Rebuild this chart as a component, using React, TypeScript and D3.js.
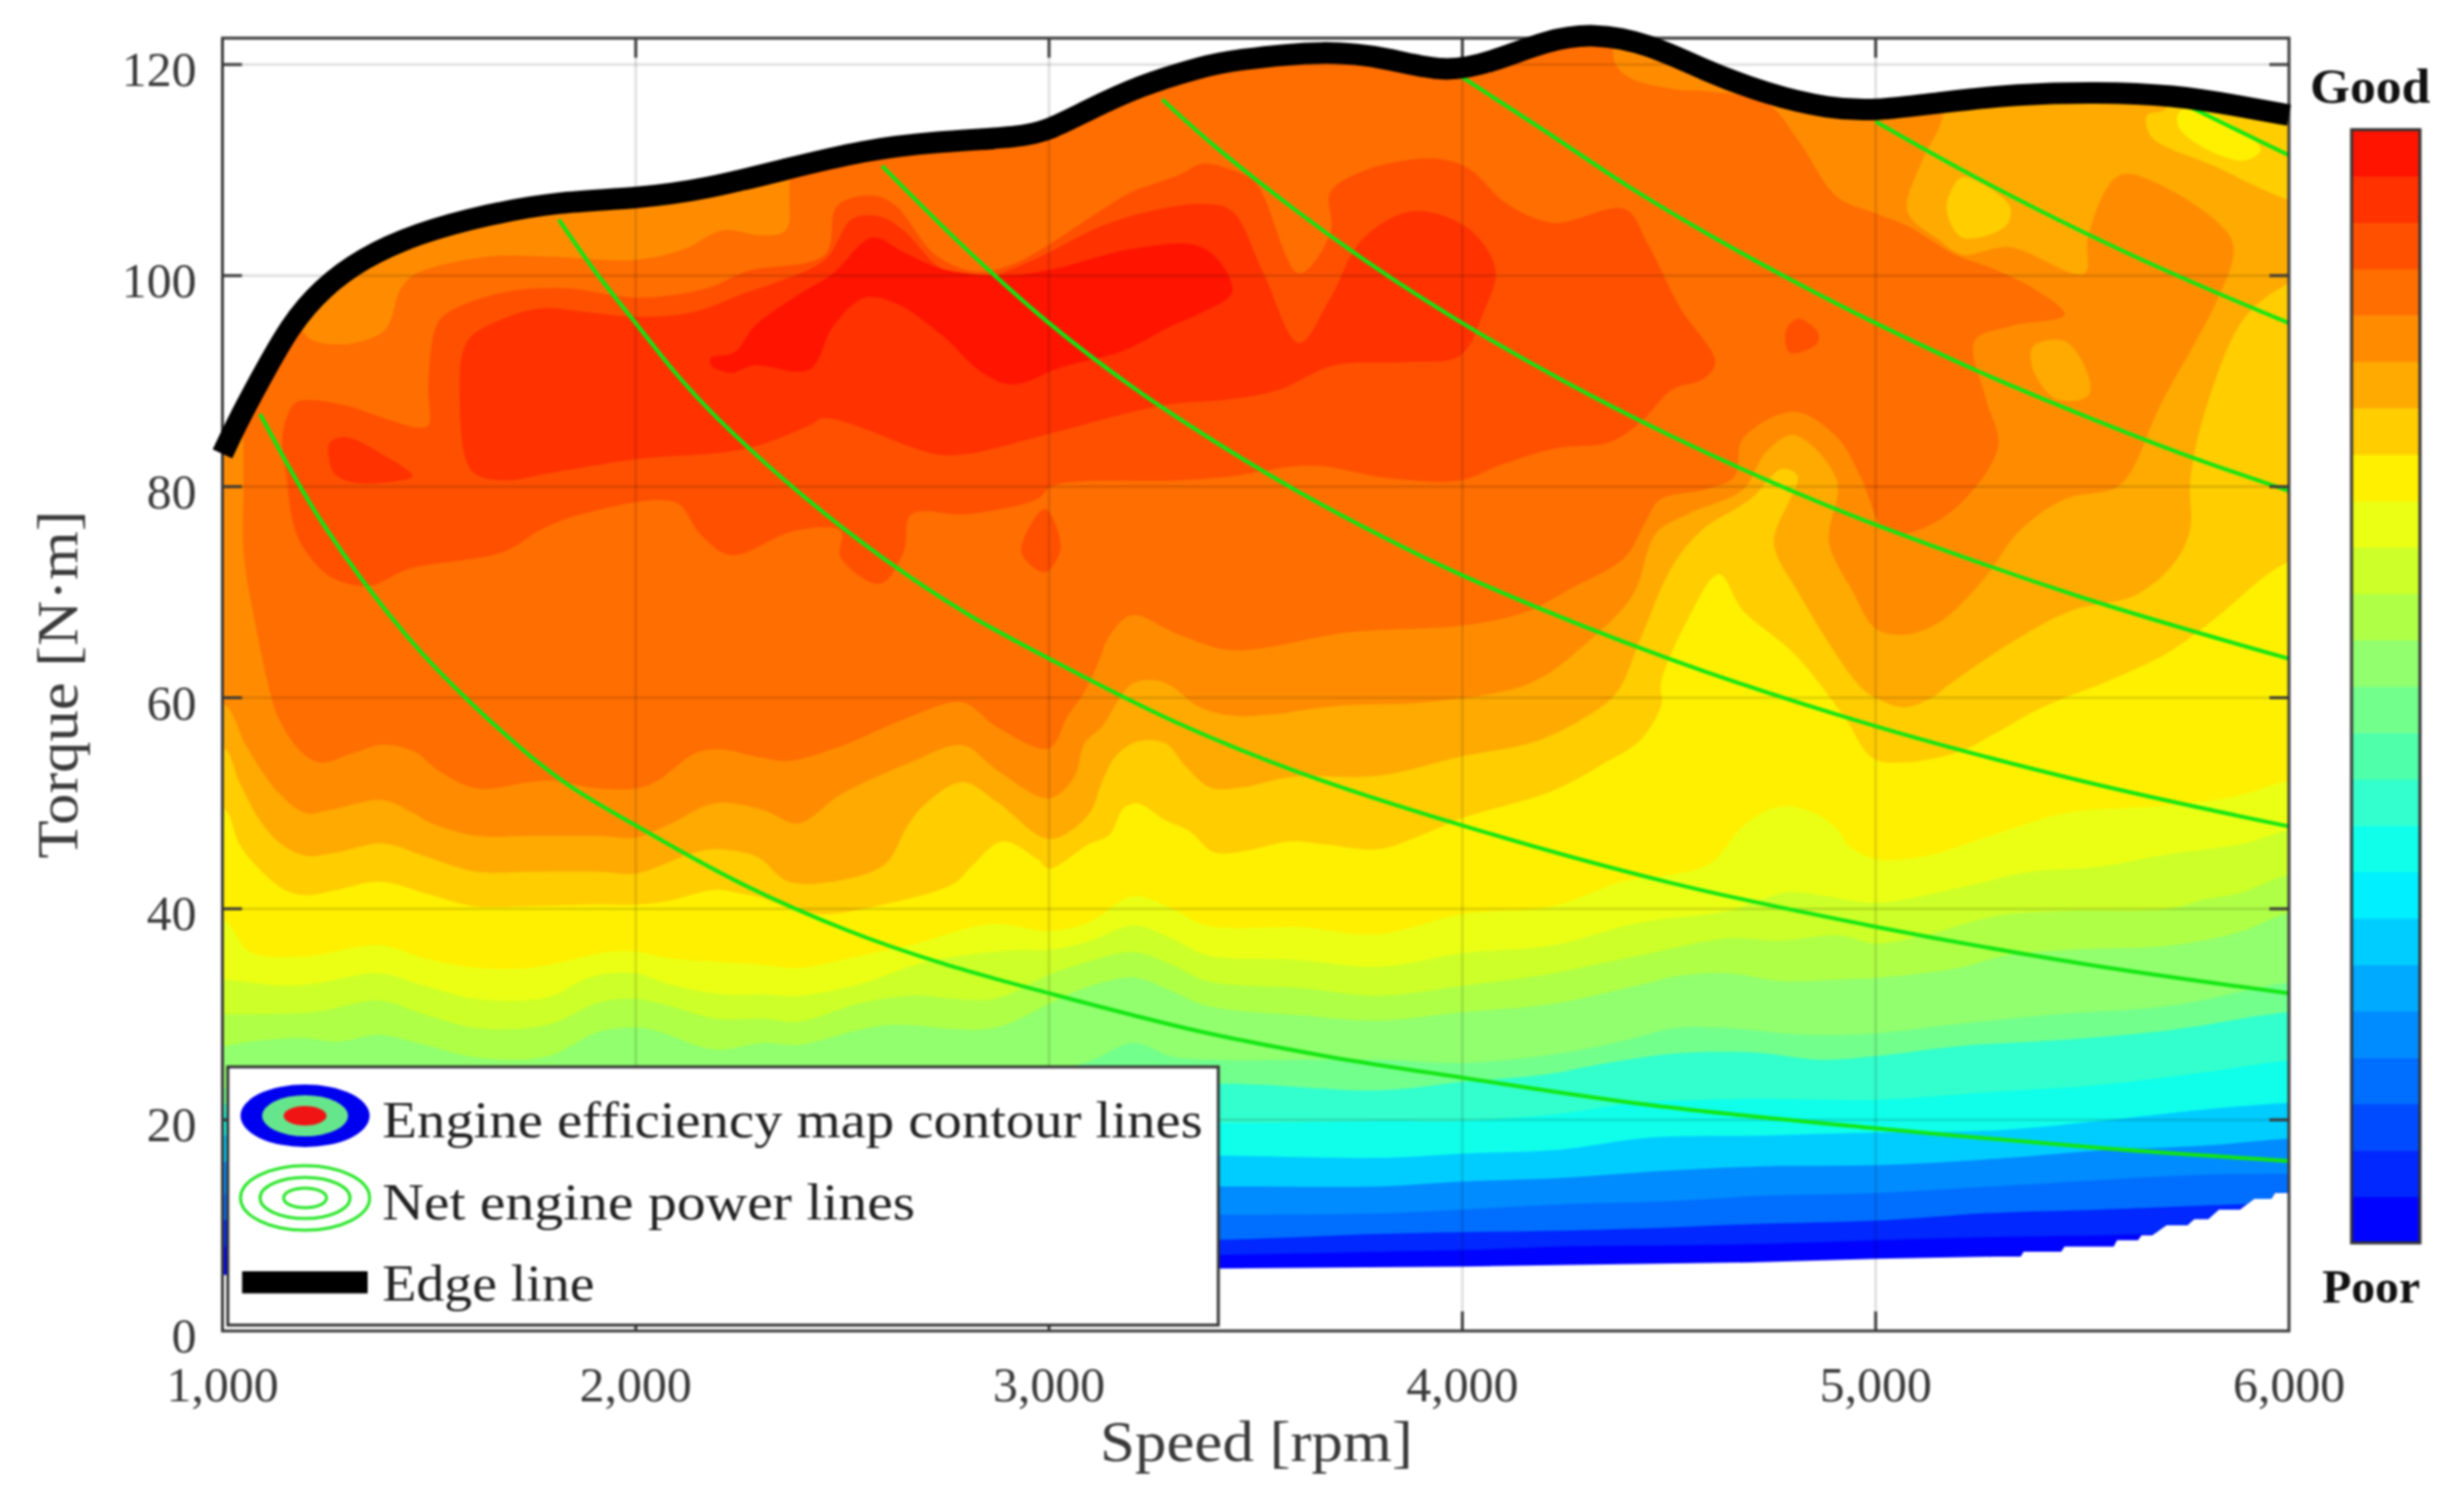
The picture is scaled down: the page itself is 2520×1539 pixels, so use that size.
import React from "react";
import * as d3 from "d3";

type Pt = [number, number];

// ---- axes ----
const speedTicks = [1000, 2000, 3000, 4000, 5000, 6000];
const torqueTicks = [0, 20, 40, 60, 80, 100, 120];

// ---- colour levels of the bar, bottom to top ----
const levelColors = [
  "rgb(0,3,255)", "rgb(0,40,255)", "rgb(0,75,255)", "rgb(0,110,255)", "rgb(0,140,255)", "rgb(0,170,255)",
  "rgb(0,205,255)", "rgb(0,240,255)", "rgb(15,255,235)", "rgb(50,255,205)", "rgb(80,255,170)", "rgb(115,255,140)",
  "rgb(145,255,110)", "rgb(175,255,70)", "rgb(205,255,40)", "rgb(235,255,20)", "rgb(255,240,0)", "rgb(255,205,0)",
  "rgb(255,170,0)", "rgb(255,140,0)", "rgb(255,110,0)", "rgb(255,80,0)", "rgb(255,50,0)", "rgb(255,20,0)",
];

// ---- edge line (speed, torque) ----
const edgeLine: Pt[] = [[1000,83.1],[1032,85.8],[1089,90],[1165,95.4],[1241,98.8],[1336,101.6],[1470,104],[1641,105.8],[1812,107],[2002,107.3],[2173,108.2],[2363,110.1],[2553,111.9],[2724,112.7],[2933,113.1],[3000,113.8],[3085,115.5],[3218,118],[3370,119.8],[3443,120.4],[3671,121.4],[3823,120.6],[3956,119.2],[4070,120.2],[4203,122.3],[4317,123],[4450,122],[4583,119.5],[4735,117.2],[4887,115.8],[5000,115.6],[5153,116.4],[5343,117.2],[5533,117.4],[5723,117.1],[5875,116.1],[6000,115.2]];

// lower limit of the map
const lowerLimit: Pt[] = [[1000,5.3],[2000,5.5],[3400,5.9],[4000,6.1],[4695,6.49],[5000,6.83],[5288,7.05],[5351,7.05],[5358,7.5],[5449,7.5],[5457,8],[5576,8],[5584,8.6],[5635,8.6],[5643,9.05],[5669,9.05],[5703,10],[5754,10],[5771,10.6],[5805,10.6],[5830,11.5],[5881,11.5],[5915,12.5],[5957,12.5],[5966,13.1],[6000,13.1]];

// ---- contour boundaries: "level and above" lies above the curve ----
const boundB: Pt[] = [[1000,8],[3000,7],[3410,7.2],[3800,7.5],[4000,7.66],[4240,8],[4500,8.1],[4720,8.25],[5000,8.6],[5288,8.9],[5542,9.05],[5670,9.2],[6000,9.5]];
const boundC: Pt[] = [[1000,10.5],[3000,8.7],[3410,8.65],[3800,9.2],[4000,9.36],[4240,9.5],[4500,9.8],[4720,10.15],[5000,10.45],[5288,11.2],[5542,11.5],[5881,12],[6000,12.1]];
const boundD: Pt[] = [[1000,13],[3000,11],[3410,11],[3800,11.15],[4000,11.5],[4240,12],[4500,12.3],[4720,12.8],[5000,13.07],[5288,13.7],[5542,14.3],[5796,14.8],[6000,14.9]];
const boundE: Pt[] = [[1000,16],[3000,13.7],[3410,13.7],[3800,13.7],[4000,14.15],[4240,14.5],[4500,15.2],[4720,15.6],[5000,15.7],[5288,16.3],[5542,17.1],[5796,17.55],[6000,18.2]];
const boundF: Pt[] = [[1000,18.5],[3000,16.5],[3410,16.6],[3800,16.4],[4000,16.8],[4240,17.2],[4450,18.3],[4720,18.5],[5000,18.8],[5288,19],[5542,19.9],[5796,21],[6000,21.6]];
const boundG: Pt[] = [[1000,20.5],[3000,20],[3410,19.7],[3800,19.9],[4000,19.9],[4240,20.6],[4410,21.6],[4580,21.9],[4720,22],[5000,21.9],[5288,22.65],[5542,23.3],[5796,24.5],[6000,25.6]];
const boundH: Pt[] = [[1000,21.5],[2500,21.5],[3000,22],[3410,23.4],[3800,22.8],[4000,23.6],[4200,24.3],[4350,25.4],[4515,26.3],[4700,26.4],[4865,25.7],[5000,26.04],[5203,27],[5457,27.6],[5711,28.5],[6000,30.2]];
const boundI: Pt[] = [[1000,23],[2000,23],[2800,24],[3086,25.4],[3204,27.3],[3297,26],[3395,25.7],[3800,25.7],[4000,25.4],[4220,26.2],[4400,27.6],[4515,28.7],[4642,28.7],[4780,28.2],[4865,28.05],[5000,28.2],[5203,29.1],[5457,30.06],[5711,30.8],[6000,33]];
const boundJ: Pt[] = [[1003,27],[1066,27.4],[1193,27.75],[1278,27.4],[1380,28.05],[1489,27.1],[1616,25.9],[1785,26],[1912,28.36],[2021,28.67],[2191,26.66],[2307,27.3],[2393,27.1],[2537,28.5],[2622,29],[2866,28.7],[3000,31],[3086,32.5],[3204,33.5],[3297,32.2],[3382,30.8],[3608,29.9],[3797,29.4],[4000,30.2],[4220,31],[4431,32.8],[4515,33.6],[4642,33.9],[4769,33.15],[4911,33.3],[5000,33.45],[5203,34.4],[5305,35.5],[5457,36.1],[5711,36.5],[5881,37.8],[6000,39.6]];
const boundK: Pt[] = [[1003,30],[1219,30.2],[1380,31.3],[1489,30],[1616,28.7],[1785,29],[1912,31.14],[2000,31.45],[2081,30.8],[2191,29.6],[2307,29.6],[2393,29.3],[2537,31],[2664,31.76],[2866,31.45],[3000,33.75],[3095,35],[3204,35.9],[3297,34.7],[3382,33.15],[3608,32.5],[3797,31.76],[4000,32.7],[4220,33.9],[4431,35.6],[4642,37.2],[4769,37],[4911,37.5],[5000,36.7],[5119,37.5],[5288,39.3],[5457,39.8],[5711,40],[5796,40.9],[5881,41.5],[6000,43.2]];
const boundL: Pt[] = [[1003,33.3],[1151,32.7],[1236,33],[1380,33.9],[1489,32.7],[1616,31.45],[1785,31.6],[1895,33.6],[2000,33.9],[2081,32.85],[2207,31.9],[2307,31.9],[2393,31.76],[2537,32.8],[2706,35],[2917,36.1],[3000,36.1],[3095,36.9],[3204,38.4],[3297,37.2],[3382,35.6],[3608,35.15],[3797,34.5],[4000,35.8],[4220,36.55],[4431,38.7],[4642,39.8],[4726,40.9],[4790,41.6],[4865,41.3],[5000,40.56],[5203,42],[5373,43.5],[5542,44],[5711,45.2],[5881,46.1],[6000,47.4]];
const boundM: Pt[] = [[1003,39],[1066,35.93],[1193,35.46],[1380,36.55],[1489,35.3],[1616,34.4],[1743,34.4],[1827,35],[1912,35.8],[2000,35.93],[2081,35.3],[2191,35],[2307,34.7],[2393,34.4],[2537,35.5],[2664,36.55],[2858,38.55],[3000,37.9],[3095,38.7],[3204,41.2],[3297,40],[3382,38.4],[3608,38.25],[3797,37.6],[4000,39.5],[4220,40.25],[4389,42.6],[4515,43.3],[4600,44.3],[4684,48],[4769,49.7],[4853,49.05],[4911,47.36],[4932,46.1],[5000,44.7],[5119,45],[5288,47.05],[5457,49.05],[5711,49.8],[5881,50.75],[6000,52.15]];
const boundN: Pt[] = [[1003,49.5],[1041,46.1],[1092,43.65],[1151,41.8],[1202,41.3],[1278,41.8],[1380,42.57],[1489,41.5],[1608,40.25],[1743,40.25],[1912,40.4],[2000,40.4],[2072,40.7],[2191,41.8],[2250,41.5],[2307,41],[2384,39.94],[2452,39.5],[2580,40.25],[2770,42.4],[2812,44],[2888,46.4],[2972,44.7],[3000,43.8],[3095,46.1],[3146,47],[3180,49.5],[3214,50],[3281,48.4],[3340,47.36],[3399,45.35],[3475,45.5],[3586,46.4],[3670,46.1],[3797,45.66],[3924,47.36],[4000,48.6],[4220,51.2],[4346,53.85],[4431,56],[4482,59.4],[4480,61.3],[4545,67.4],[4621,71.7],[4678,68.3],[4802,64.2],[4924,58.2],[4992,54.3],[5068,53.85],[5203,54.9],[5288,56.6],[5373,58.5],[5457,60],[5542,61.26],[5704,64.2],[5818,67.4],[6000,72.85]];
const regionO: Pt[] = [[900,55.24],[1003,55.24],[1041,52],[1092,48.3],[1143,46.1],[1202,45.04],[1278,45.35],[1388,46.2],[1489,45],[1616,43.5],[1743,43.5],[1912,43.5],[2000,43.34],[2072,44.3],[2131,45.2],[2191,45.66],[2275,45.2],[2307,44.6],[2368,42.6],[2495,42.7],[2605,44.3],[2655,47.7],[2697,49.8],[2790,52],[2875,50.1],[3000,46.6],[3095,48.9],[3128,52],[3162,54.5],[3213,55.85],[3281,55.7],[3331,53.5],[3390,51.5],[3466,51.5],[3586,52.5],[3797,52.6],[4000,54.46],[4177,55.85],[4304,58.3],[4374,60.5],[4431,65.6],[4507,72.4],[4583,76],[4697,78.8],[4773,81.7],[4811,81],[4754,74.7],[4811,70.1],[4958,61.26],[5000,60],[5068,59.1],[5135,60],[5178,61.26],[5343,65.6],[5476,68.3],[5628,69.7],[5723,72.8],[5761,76],[5761,80.6],[5799,87.4],[5894,96.1],[6000,99.3],[6060,100],[6060,107],[6000,107.2],[5818,110.4],[5666,113.2],[5657,115.2],[5704,115.9],[5704,135],[900,135]];
const regionP: Pt[] = [[900,59.4],[1003,59.4],[1058,55.4],[1134,51.06],[1202,49.06],[1261,49.37],[1388,50.3],[1455,49.2],[1506,48.1],[1616,46.9],[1743,46.9],[1912,46.9],[2000,46.74],[2081,48],[2191,50],[2307,49.37],[2393,48.1],[2495,50.8],[2664,53.85],[2790,55.5],[2875,53.1],[3000,50.45],[3061,52.5],[3086,55.7],[3128,57.25],[3171,60],[3200,61.3],[3247,61.7],[3289,61.26],[3365,59.1],[3443,58.3],[3534,58.4],[3690,59.2],[3918,59.6],[4165,61.4],[4298,65.1],[4412,69.7],[4469,75.6],[4545,77.4],[4678,79.7],[4735,83.3],[4802,84.9],[4906,80.6],[4887,74.7],[4944,70.1],[5001,66.5],[5077,66],[5163,67.4],[5267,71.5],[5343,75.6],[5457,78.8],[5581,79.9],[5619,81.5],[5685,87.4],[5818,97],[5866,102],[5856,103.8],[5723,107.9],[5590,109.5],[5514,103.8],[5505,100.2],[5324,102.7],[5210,102],[5153,103.4],[5077,106.1],[5115,111.1],[5163,115.2],[5163,135],[900,135]];
const regionQ: Pt[] = [[1051,80.6],[1051,73.8],[1080,66.9],[1118,60.1],[1134,58.2],[1185,55.1],[1236,53.85],[1320,54.8],[1388,55.55],[1464,54.9],[1523,53.1],[1616,51.4],[1743,52],[1793,52.15],[1912,51.4],[2000,51.4],[2047,52],[2148,54.8],[2207,55.1],[2307,54.3],[2368,54],[2495,55.4],[2664,58.2],[2790,59.56],[2875,57.2],[3000,55.2],[3044,58.2],[3085,60.5],[3123,63.7],[3142,65.6],[3199,67.8],[3313,66],[3443,64.5],[3728,66.2],[4013,66.9],[4165,68.3],[4260,70.3],[4393,73.3],[4441,76.5],[4479,78.8],[4583,79.7],[4659,81],[4678,84.5],[4802,87.1],[4906,84.7],[4963,81],[5020,76],[5077,75.6],[5191,77.9],[5296,83.8],[5267,88.3],[5239,93.8],[5324,95.2],[5457,96.3],[5381,98.8],[5267,100.9],[5191,102],[5077,104.7],[5001,105.9],[4906,107.5],[4811,112.9],[4735,116.4],[4583,117.5],[4507,117.7],[4374,119.8],[4374,135],[2372,135],[2372,108.4],[2363,104.3],[2306,103.8],[2211,104.3],[2116,102.5],[2002,101.5],[1793,101.8],[1641,101.8],[1470,100.2],[1432,98.8],[1394,94.9],[1317,93.6],[1222,93.8],[1194,94.7],[1100,100],[1000,90],[1045,86]];
const regionR: Pt[] = [[1175,87.9],[1213,88.2],[1298,87.7],[1375,86.7],[1470,85.6],[1498,85.8],[1498,89.7],[1517,95.2],[1546,96.5],[1679,98.4],[1831,98.8],[2002,97.9],[2173,98.8],[2268,100.4],[2458,102],[2487,106.6],[2572,107.6],[2629,106.6],[2724,102],[2819,100.4],[2914,101.1],[3123,106.1],[3199,107.9],[3313,109.5],[3370,110.6],[3443,110],[3500,108.8],[3605,100.2],[3681,104.1],[3681,107.9],[3766,110],[3928,111.1],[4013,110.2],[4108,106.8],[4222,105],[4393,106.3],[4450,102.9],[4526,97],[4612,91.8],[4583,90.2],[4507,89.2],[4431,86.1],[4355,84.2],[4222,83.6],[4089,82],[3994,80.6],[3823,80.8],[3633,82],[3443,81],[3313,80.6],[3009,80.1],[2971,78.8],[2800,77.4],[2667,77.4],[2648,73.8],[2591,70.8],[2496,73.3],[2496,75.8],[2382,75.8],[2230,73.5],[2154,75.6],[2097,78.5],[1869,77.4],[1774,76],[1679,73.8],[1451,72.2],[1355,70.6],[1260,71.5],[1203,73.8],[1175,76],[1156,80.6],[1146,85.1]];
const regionS: Pt[] = [[1593,93.8],[1679,95.9],[1774,96.9],[1888,96.5],[2002,96.1],[2135,96.5],[2268,98.4],[2335,99.3],[2458,101.5],[2525,105.4],[2591,105.6],[2648,104.3],[2743,100.6],[2857,100],[2952,101.3],[3161,105.2],[3370,106.8],[3443,106.1],[3519,100.2],[3605,93.6],[3681,97.9],[3757,103.4],[3880,106.1],[4013,104.5],[4080,100.6],[4051,96.5],[3994,92.4],[3861,91.8],[3690,91.5],[3557,89.2],[3443,88.3],[3276,87.7],[3009,85.1],[2800,83.1],[2724,83.1],[2458,86.5],[2420,85.8],[2268,83.6],[2002,82.6],[1793,81.3],[1679,80.6],[1603,81.5],[1574,88.3]];
const regionT: Pt[] = [[2182,92.2],[2239,92.7],[2287,95.2],[2382,97.9],[2477,100.2],[2572,103.6],[2648,102.2],[2743,100.6],[2895,100],[3009,100.6],[3199,102.5],[3351,102.9],[3409,101.5],[3443,98.4],[3370,96.5],[3294,95.2],[3180,92.9],[3028,91.3],[2914,89.7],[2838,90.8],[2743,94.3],[2629,97.4],[2553,97.9],[2477,95.2],[2420,91.1],[2287,91.5],[2230,90.8],[2182,91.5]];

// small closed islands
const islandR1: Pt[] = [[2990,77.9],[3028,74.2],[2990,71.9],[2933,73.8]];
const islandR2: Pt[] = [[4811,95.9],[4859,94.7],[4859,93.6],[4792,92.7],[4783,94.8]];
const islandS: Pt[] = [[1260,84.2],[1298,84.7],[1394,82.9],[1460,81],[1432,80.6],[1317,80.4],[1270,81.3],[1257,82.9]];
const islandN1: Pt[] = [[5210,109.3],[5324,106.6],[5315,104.7],[5210,103.6],[5172,106.1],[5182,108]];
const islandO1: Pt[] = [[5381,93.3],[5457,93.8],[5514,90.6],[5514,88.6],[5438,88.3],[5381,91.1]];
const islandM: Pt[] = [[5733,115.4],[5771,115.9],[5932,112],[5894,110.9],[5799,112],[5733,114.1]];

// ---- net engine power lines ----
const power10: Pt[] = [[1091,86.9],[1243,76.5],[1445,65.9],[1604,59.4],[1813,52.4],[2000,47.9],[2250,42.5],[2516,37.9],[2744,34.8],[3000,32],[3352,28.5],[3675,26],[4000,24],[4454,21.4],[5000,19.2],[5555,17.3],[6000,16.1]];
const power20: Pt[] = [[1814,105.3],[1900,100.5],[2000,95.5],[2100,90.6],[2200,86.4],[2400,79.3],[2600,73.2],[2800,68],[3000,63.7],[3300,57.8],[3600,53],[4000,47.9],[4500,42.5],[5000,38.3],[5500,34.8],[6000,32]];
const power30: Pt[] = [[2596,110.4],[2800,102.5],[3000,95.5],[3200,89.5],[3400,84.3],[3600,79.6],[3800,75.4],[4000,71.6],[4500,63.7],[5000,57.3],[5500,52.1],[6000,47.8]];
const power40: Pt[] = [[3274,116.7],[3400,112.3],[3600,106.1],[3800,100.5],[4000,95.5],[4250,89.9],[4500,84.9],[4750,80.4],[5000,76.4],[5500,69.5],[6000,63.7]];
const power50: Pt[] = [[3960,119.8],[4200,113.7],[4400,108.5],[4600,103.8],[4800,99.5],[5000,95.5],[5250,90.9],[5500,86.8],[5750,83],[6000,79.6]];
const power60: Pt[] = [[5000,114.6],[5200,110.2],[5400,106.1],[5600,102.3],[5800,98.8],[6000,95.5]];
const power70: Pt[] = [[5755,116.1],[5900,113.3],[6000,111.4]];

const openBands: [number, Pt[]][] = [
  [1, boundB], [3, boundC], [4, boundD], [6, boundE], [8, boundF], [9, boundG], [11, boundH],
  [12, boundI], [13, boundJ], [14, boundK], [15, boundL], [16, boundM], [17, boundN],
];
const closedBands: [number, Pt[]][] = [[18, regionO], [19, regionP], [20, regionQ], [21, regionR], [22, regionS], [23, regionT]];
const islands: [number, Pt[]][] = [[21, islandR1], [21, islandR2], [22, islandS], [17, islandN1], [18, islandO1], [16, islandM]];
const powerLines = [power10, power20, power30, power40, power50, power60, power70];
const levelIndex = d3.range(levelColors.length);

const W = 2520, H = 1539;
const L = 227.5, R = 2341, T = 39, B = 1361;
const x = d3.scaleLinear([1000, 6000], [L, R]);
const y = d3.scaleLinear([0, 120], [B, 66]);
const barY = d3.scaleBand<number>().domain([...levelIndex].reverse()).range([132.6, 1271]);
const serif = "'Liberation Serif', serif";
const ink = "#3a3a3a";

const smooth = d3.line<Pt>().x(d => x(d[0])).y(d => y(d[1])).curve(d3.curveCatmullRom.alpha(0.5));
const basis = d3.line<Pt>().x(d => x(d[0])).y(d => y(d[1])).curve(d3.curveBasis);
const closedSmooth = d3.line<Pt>().x(d => x(d[0])).y(d => y(d[1])).curve(d3.curveCatmullRomClosed.alpha(0.5));
const straight = d3.line<Pt>().x(d => x(d[0])).y(d => y(d[1]));

const above = (c: Pt[]): Pt[] => [[900, c[0][1]], ...c, [6100, c[c.length - 1][1]], [6100, 135], [900, 135]];
const clipD = (basis(edgeLine) as string) + "L" + (straight([...lowerLimit].reverse()) as string).slice(1) + "Z";

export default function App() {
  const fmt = d3.format(",");
  return (
    <svg width={W} height={H} viewBox={`0 0 ${W} ${H}`}
      style={{ position: "absolute", left: 0, top: 0, background: "#fff", filter: "blur(0.8px)" }}
      fontFamily={serif}>
      <defs>
        <clipPath id="map"><path d={clipD} /></clipPath>
      </defs>

      <g clipPath="url(#map)">
        <rect x={L} y={T - 30} width={R - L} height={B - T + 30} fill={levelColors[0]} />
        {openBands.map(([lvl, c], i) => <path key={"o" + i} d={closedSmooth(above(c)) as string} fill={levelColors[lvl]} />)}
        {closedBands.map(([lvl, c], i) => <path key={"c" + i} d={closedSmooth(c) as string} fill={levelColors[lvl]} />)}
        {islands.map(([lvl, c], i) => <path key={"i" + i} d={closedSmooth(c) as string} fill={levelColors[lvl]} />)}
      </g>

      {/* grid */}
      <g stroke="#000" strokeOpacity={0.13} strokeWidth={2.6}>
        {speedTicks.slice(1, -1).map(s => <line key={s} x1={x(s)} x2={x(s)} y1={T} y2={B} />)}
        {torqueTicks.slice(1).map(t => <line key={t} x1={L} x2={R} y1={y(t)} y2={y(t)} />)}
      </g>

      {/* power lines */}
      <g fill="none" stroke="#12e612" strokeWidth={4}>
        {powerLines.map((p, i) => <path key={i} d={smooth(p) as string} />)}
      </g>

      {/* frame and ticks */}
      <g stroke={ink} strokeWidth={3}>
        <rect x={L} y={T} width={R - L} height={B - T} fill="none" />
        {speedTicks.slice(1, -1).map(s => (
          <g key={s}>
            <line x1={x(s)} x2={x(s)} y1={B} y2={B - 20} />
            <line x1={x(s)} x2={x(s)} y1={T} y2={T + 20} />
          </g>
        ))}
        {torqueTicks.slice(1).map(t => (
          <g key={t}>
            <line x1={L} x2={L + 20} y1={y(t)} y2={y(t)} />
            <line x1={R} x2={R - 20} y1={y(t)} y2={y(t)} />
          </g>
        ))}
      </g>

      {/* edge line */}
      <path d={basis(edgeLine) as string} fill="none" stroke="#000" strokeWidth={22} />

      {/* tick labels */}
      <g fill={ink} fontSize={51}>
        {speedTicks.map(s => <text key={s} x={x(s)} y={1433} textAnchor="middle">{fmt(s)}</text>)}
        {torqueTicks.map(t => <text key={t} x={201} y={y(t) + 22} textAnchor="end">{t}</text>)}
      </g>
      <text x={1285} y={1494} textAnchor="middle" fontSize={59} fill={ink} textLength={320} lengthAdjust="spacingAndGlyphs">Speed [rpm]</text>
      <text transform="translate(79,700) rotate(-90)" textAnchor="middle" fontSize={59} fill={ink} textLength={356} lengthAdjust="spacingAndGlyphs">Torque [N·m]</text>

      {/* legend */}
      <rect x={233} y={1091} width={1013} height={264} fill="#fff" stroke="#333" strokeWidth={3} />
      <ellipse cx={312} cy={1141} rx={66} ry={32} fill="#0000f0" />
      <ellipse cx={312} cy={1141} rx={44} ry={21} fill="#66e68c" />
      <ellipse cx={312} cy={1141} rx={22} ry={10} fill="#f01414" />
      <g fill="none" stroke="#22e622" strokeWidth={3}>
        <ellipse cx={312} cy={1225} rx={66} ry={33} />
        <ellipse cx={312} cy={1225} rx={46} ry={21} />
        <ellipse cx={312} cy={1225} rx={22} ry={10} />
      </g>
      <rect x={247.6} y={1300} width={128.4} height={22.6} fill="#000" />
      <g fontSize={52} fill="#222">
        <text x={391} y={1163} textLength={839} lengthAdjust="spacingAndGlyphs">Engine efficiency map contour lines</text>
        <text x={391} y={1247} textLength={545} lengthAdjust="spacingAndGlyphs">Net engine power lines</text>
        <text x={391} y={1330} textLength={217} lengthAdjust="spacingAndGlyphs">Edge line</text>
      </g>

      {/* colour bar */}
      {levelIndex.map(i => <rect key={i} x={2405} y={barY(i)} width={70} height={barY.bandwidth() + 0.5} fill={levelColors[i]} />)}
      <rect x={2405} y={132.6} width={70} height={1138.4} fill="none" stroke="#333" strokeWidth={3} />
      <text x={2424} y={105} textAnchor="middle" fontSize={50} fontWeight="bold" fill="#111" textLength={123} lengthAdjust="spacingAndGlyphs">Good</text>
      <text x={2425} y={1332} textAnchor="middle" fontSize={48} fontWeight="bold" fill="#111" textLength={100} lengthAdjust="spacingAndGlyphs">Poor</text>
    </svg>
  );
}
